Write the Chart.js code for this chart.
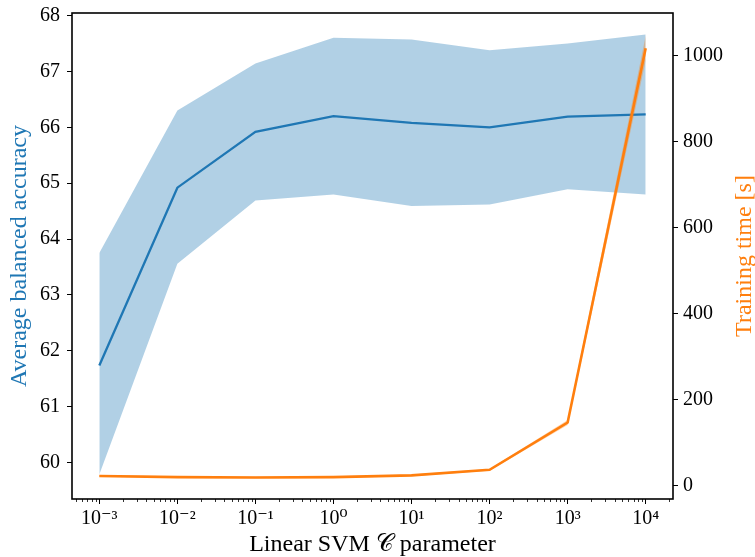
<!DOCTYPE html>
<html><head><meta charset="utf-8">
<script src="https://cdn.jsdelivr.net/npm/chart.js@4.4.1/dist/chart.umd.min.js"></script>
<style>html,body{margin:0;padding:0;background:#fff;}canvas{display:block}</style>
</head><body>
<canvas id="c" width="755" height="557"></canvas>
<script>
// ---- data ----
const cValues   = [1e-3, 1e-2, 1e-1, 1, 10, 100, 1000, 10000];
const accMean   = [61.74, 64.92, 65.92, 66.20, 66.08, 66.00, 66.19, 66.23];
const accLow    = [59.79, 63.56, 64.69, 64.80, 64.59, 64.62, 64.89, 64.80];
const accHigh   = [63.75, 66.30, 67.14, 67.60, 67.57, 67.38, 67.50, 67.66];
const timeMean  = [22.6, 20, 19, 20, 24, 37, 147, 1018];
const timeLow   = [20.6, 18, 17, 18, 22, 35, 141, 989];
const timeHigh  = [24.6, 22, 21, 22, 26, 39, 153, 1047];
const xTickExponents = [-3, -2, -1, 0, 1, 2, 3, 4];
const leftTicks  = [60, 61, 62, 63, 64, 65, 66, 67, 68];
const rightTicks = [0, 200, 400, 600, 800, 1000];
const xTitle = 'Linear SVM \u{1D49E} parameter';
const leftTitle = 'Average balanced accuracy';
const rightTitle = 'Training time [s]';

const BLUE = '#1f77b4', ORANGE = '#ff7f0e';
const FAMILY = "'Liberation Serif', 'DejaVu Serif', serif";
const sup = {'-':'\u207B','0':'\u2070','1':'\u00B9','2':'\u00B2','3':'\u00B3','4':'\u2074','5':'\u2075','6':'\u2076','7':'\u2077','8':'\u2078','9':'\u2079'};
const fmtPow = v => '10' + String(Math.round(Math.log10(v))).split('').map(ch => sup[ch]).join('');
const pts = ys => cValues.map((x, i) => ({x, y: ys[i]}));
const clear = 'rgba(0,0,0,0)';

const frame = {
  id: 'frame',
  afterDraw(chart) {
    const {ctx, chartArea: a, scales} = chart;
    ctx.save();
    // minor log ticks on x axis
    const xs = scales.x;
    ctx.strokeStyle = '#000'; ctx.lineWidth = 0.8;
    for (let e = -4; e <= 4; e++) {
      for (let m = 2; m <= 9; m++) {
        const v = m * Math.pow(10, e);
        if (v < xs.min || v > xs.max) continue;
        const px = Math.round(xs.getPixelForValue(v)) + 0.5;
        ctx.beginPath(); ctx.moveTo(px, a.bottom); ctx.lineTo(px, a.bottom + 3); ctx.stroke();
      }
    }
    // spines
    ctx.lineWidth = 1.6; ctx.strokeStyle = '#000';
    ctx.strokeRect(a.left, a.top, a.right - a.left, a.bottom - a.top);
    // right axis title (reads bottom-to-top like the reference)
    ctx.translate(745, (a.top + a.bottom) / 2);
    ctx.rotate(-Math.PI / 2);
    ctx.fillStyle = ORANGE;
    ctx.font = '24px ' + FAMILY;
    ctx.textAlign = 'center'; ctx.textBaseline = 'middle';
    ctx.fillText(rightTitle, 0, 0);
    ctx.restore();
  }
};

const tickFont = {family: FAMILY, size: 20};
const gridOpts = {drawOnChartArea: false, drawTicks: true, tickLength: 5, color: '#000', tickWidth: 1};
const noPad = s => { s.paddingTop = 0; s.paddingBottom = 0; s.paddingLeft = 0; s.paddingRight = 0; };

new Chart(document.getElementById('c'), {
  type: 'line',
  data: {
    datasets: [
      {data: pts(timeMean), yAxisID: 'y2', borderColor: ORANGE, borderWidth: 2.6, pointRadius: 0, fill: false, tension: 0},
      {data: pts(timeLow),  yAxisID: 'y2', borderColor: clear, borderWidth: 1, pointRadius: 0, fill: false},
      {data: pts(timeHigh), yAxisID: 'y2', borderColor: clear, borderWidth: 1, pointRadius: 0, fill: 1, backgroundColor: 'rgba(255,127,14,0.35)'},
      {data: pts(accMean), yAxisID: 'y', borderColor: BLUE, borderWidth: 2.3, pointRadius: 0, fill: false, tension: 0},
      {data: pts(accLow),  yAxisID: 'y', borderColor: clear, borderWidth: 1, pointRadius: 0, fill: false},
      {data: pts(accHigh), yAxisID: 'y', borderColor: clear, borderWidth: 1, pointRadius: 0, fill: 4, backgroundColor: 'rgba(31,119,180,0.35)'}
    ]
  },
  options: {
    responsive: false,
    animation: false,
    layout: {padding: {top: 13, left: 0, right: 0, bottom: 0}},
    plugins: {legend: {display: false}, tooltip: {enabled: false}},
    scales: {
      x: {
        type: 'logarithmic',
        min: Math.pow(10, -3.35), max: Math.pow(10, 4.35),
        afterBuildTicks: s => { s.ticks = xTickExponents.map(e => ({value: Math.pow(10, e), major: true})); },
        ticks: {callback: v => fmtPow(v), font: tickFont, color: '#000', padding: 3, maxRotation: 0, autoSkip: false},
        grid: gridOpts,
        border: {display: false},
        title: {display: true, text: xTitle, color: '#000', font: {family: FAMILY, size: 24, lineHeight: 1}, padding: 0},
        afterFit: s => { s.height = 58; noPad(s); }
      },
      y: {
        type: 'linear', position: 'left',
        min: 59.35, max: 68.045,
        afterBuildTicks: s => { s.ticks = leftTicks.map(v => ({value: v})); },
        ticks: {font: tickFont, color: '#000', padding: 7},
        grid: gridOpts,
        border: {display: false},
        title: {display: true, text: leftTitle, color: BLUE, font: {family: FAMILY, size: 24, lineHeight: 1}, padding: {top: 8, bottom: 0}},
        afterFit: s => { s.width = 72; noPad(s); }
      },
      y2: {
        type: 'linear', position: 'right',
        min: -31, max: 1100,
        afterBuildTicks: s => { s.ticks = rightTicks.map(v => ({value: v})); },
        ticks: {font: tickFont, color: '#000', padding: 5, callback: v => String(v)},
        grid: gridOpts,
        border: {display: false},
        title: {display: false},
        afterFit: s => { s.width = 82; noPad(s); }
      }
    }
  },
  plugins: [frame]
});
</script>
</body></html>
